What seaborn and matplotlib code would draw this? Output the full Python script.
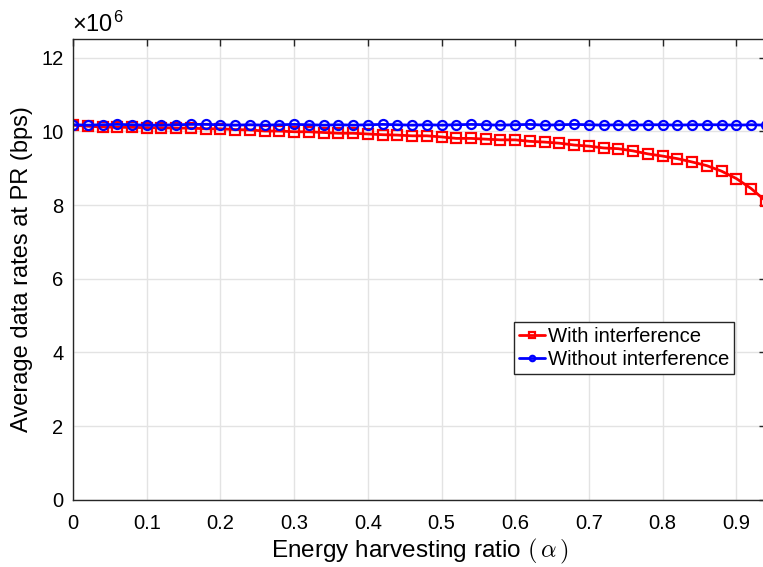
import numpy as np
import pandas as pd
import matplotlib
matplotlib.use("Agg")
import matplotlib.pyplot as plt
import seaborn as sns

# Energy harvesting ratio values
alpha = [0.00, 0.02, 0.04, 0.06, 0.08, 0.10, 0.12, 0.14, 0.16, 0.18,
         0.20, 0.22, 0.24, 0.26, 0.28, 0.30, 0.32, 0.34, 0.36, 0.38,
         0.40, 0.42, 0.44, 0.46, 0.48, 0.50, 0.52, 0.54, 0.56, 0.58,
         0.60, 0.62, 0.64, 0.66, 0.68, 0.70, 0.72, 0.74, 0.76, 0.78,
         0.80, 0.82, 0.84, 0.86, 0.88, 0.90, 0.92, 0.94]

# Average data rates (x 10^6 bps)
with_interference = [10.17, 10.14, 10.12, 10.11, 10.11, 10.10, 10.10, 10.09, 10.09, 10.07,
                     10.07, 10.05, 10.04, 10.01, 10.01, 9.99, 9.99, 9.97, 9.95, 9.95,
                     9.93, 9.91, 9.90, 9.88, 9.88, 9.85, 9.81, 9.81, 9.79, 9.77,
                     9.77, 9.73, 9.71, 9.68, 9.63, 9.60, 9.55, 9.53, 9.47, 9.39,
                     9.33, 9.26, 9.17, 9.07, 8.92, 8.72, 8.45, 8.11]

without_interference = [10.18, 10.17, 10.18, 10.19, 10.18, 10.17, 10.17, 10.18, 10.19, 10.19,
                        10.18, 10.17, 10.18, 10.17, 10.18, 10.19, 10.18, 10.17, 10.18, 10.17,
                        10.18, 10.19, 10.18, 10.17, 10.18, 10.17, 10.18, 10.19, 10.18, 10.17,
                        10.18, 10.19, 10.17, 10.18, 10.19, 10.18, 10.17, 10.18, 10.17, 10.18,
                        10.18, 10.17, 10.18, 10.18, 10.18, 10.17, 10.18, 10.17]

labels = ["With interference", "Without interference"]
xticks = [0, 0.1, 0.2, 0.3, 0.4, 0.5, 0.6, 0.7, 0.8, 0.9]
xticklabels = ["0", "0.1", "0.2", "0.3", "0.4", "0.5", "0.6", "0.7", "0.8", "0.9"]
yticks = [0, 2, 4, 6, 8, 10, 12]

sns.set_theme(style="white")
plt.rcParams['font.family'] = ['Liberation Sans', 'DejaVu Sans']
plt.rcParams['mathtext.fontset'] = 'cm'

fig = plt.figure(figsize=(7.63, 5.67), dpi=100)
ax = fig.add_axes([0.0957, 0.1185, 0.908, 0.8122])

sns.lineplot(x=alpha, y=with_interference, ax=ax, color='#ff0000', lw=2,
             marker='s', markersize=7.5, markerfacecolor='none', markeredgecolor='#ff0000',
             markeredgewidth=1.6, label=labels[0])
sns.lineplot(x=alpha, y=without_interference, ax=ax, color='#0000ff', lw=2,
             marker='o', markersize=6.5, markerfacecolor='none', markeredgecolor='#0000ff',
             markeredgewidth=1.6, label=labels[1])

ax.set_xlim(0, 0.94)
ax.set_ylim(0, 12.5)
ax.set_xticks(xticks)
ax.set_xticklabels(xticklabels)
ax.set_yticks(yticks)
ax.grid(True, color='#e3e3e3', lw=1)
ax.set_axisbelow(True)
for s in ax.spines.values():
    s.set_visible(True)
    s.set_color('#262626')
    s.set_linewidth(1.0)
ax.tick_params(direction='in', length=5, width=1, colors='#262626',
               top=True, right=True, labelsize=14.5, labelcolor='black')
ax.tick_params(axis='x', pad=10)
ax.tick_params(axis='y', pad=7)

ax.set_xlabel(r"Energy harvesting ratio $(\,\alpha\,)$", fontsize=17.5, labelpad=3,
              color='black')
ax.set_ylabel("Average data rates at PR (bps)", fontsize=17, labelpad=6, color='black')
ax.text(-0.002, 1.006, "\u00d710$^{\\mathregular{6}}$", transform=ax.transAxes,
        fontsize=17, ha='left', va='bottom', color='black')

leg = ax.legend(loc='upper left', bbox_to_anchor=(0.636, 0.387), fontsize=14.6,
                frameon=True, fancybox=False, edgecolor='#262626', framealpha=1,
                handlelength=1.3, handletextpad=0.15, borderpad=0.25,
                labelspacing=0.22, borderaxespad=0, markerscale=0.6)
leg.get_frame().set_linewidth(1.0)
for t in leg.get_texts():
    t.set_color('black')

fig.savefig("out.png", dpi=100)
